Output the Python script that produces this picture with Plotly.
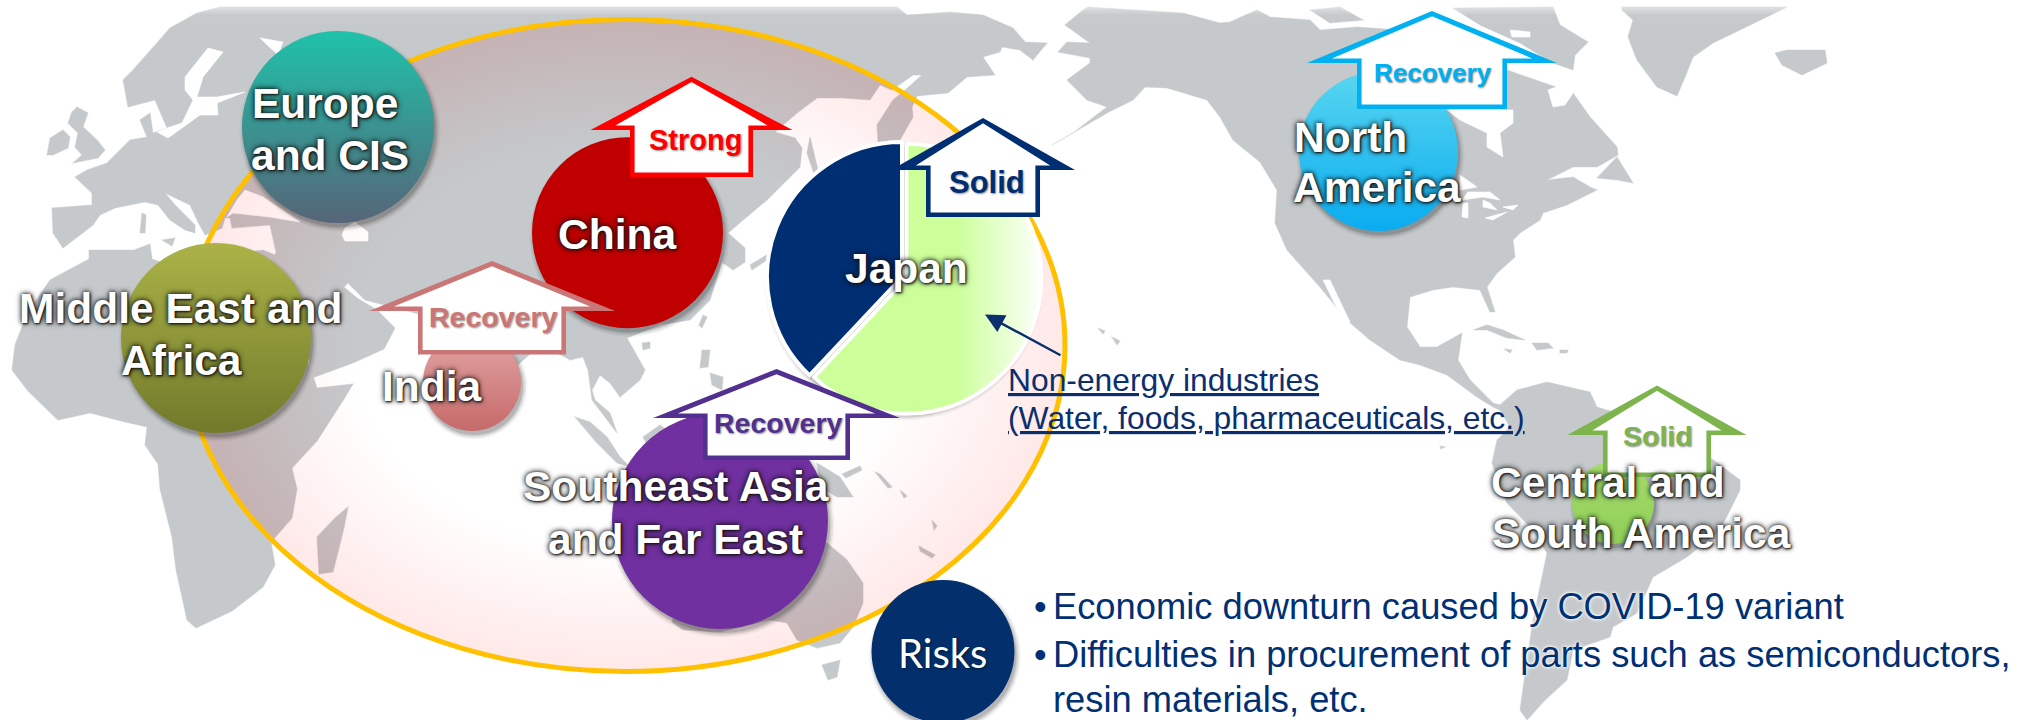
import math
import plotly.graph_objects as go

W, H = 2037, 720

# ---- Regions and outlook ----
REGION_NAMES = ["Europe and CIS", "Middle East and Africa", "China", "India",
                "Southeast Asia and Far East", "North America",
                "Central and South America", "Risks"]
REGION_RADIUS = [96, 95, 95.5, 49, 108, 79.5, 41, 71.5]
REGION_X = [338, 216, 627.5, 472, 720, 1378.5, 1613, 943]
REGION_Y = [127, 338, 232.7, 382, 521, 151.5, 503, 651.5]
REGION_TOP = ["#1fc2aa", "#abb347", "#c00000", "#e3a5a5", "#7030a0", "#58d6f0", "#a6dc6c", "#03306c"]
REGION_BOTTOM = ["#566578", "#727a2b", "#c00000", "#c66a6a", "#7030a0", "#0aacf0", "#8fcf58", "#03306c"]

JAPAN_SEGMENTS = ["Non-energy industries", "Energy"]
JAPAN_SHARE = [62, 38]

OUTLOOK = ["Strong", "Solid", "Recovery", "Recovery", "Recovery", "Solid"]
OUTLOOK_COLOR = ["#ff0000", "#002e73", "#cb7676", "#52308f", "#00b0f0", "#7db44e"]
OUTLOOK_X = [691.5, 983, 492, 776.5, 1432, 1657]
OUTLOOK_APEX = [76.7, 118, 261, 369, 11, 385.5]
OUTLOOK_WING = [130, 170, 311, 418, 63, 435]
OUTLOOK_BASE = [177, 217, 354.5, 460, 109, 477]
OUTLOOK_TIP = [101, 92, 123, 123.5, 125, 89.5]
OUTLOOK_BODY = [61.5, 57, 74, 73.5, 75, 54]
OUTLOOK_TEXT_X = [695, 987, 493, 778, 1433, 1658]
OUTLOOK_TEXT_BASE = [150, 193, 327, 433, 82, 446]
OUTLOOK_TEXT_SIZE = [29, 31, 28.5, 28.5, 26, 28.5]

REGION_LINES = ["Europe", "and CIS", "China", "Middle East and", "Africa", "India",
                "Southeast Asia", "and Far East", "Japan", "North", "America",
                "Central and", "South America"]
LINE_X = [324.5, 330, 617, 181, 181, 432, 676, 675, 906, 1350, 1376.5, 1608, 1641]
LINE_BASE = [118, 170, 249.5, 323.5, 375, 401, 501, 554, 283.5, 152, 202, 497, 548]

NOTE_LINES = ["Non-energy industries", "(Water, foods, pharmaceuticals, etc.)"]
NOTE_BASE = [391, 429]
RISK_LINES = ["Economic downturn caused by COVID-19 variant",
              "Difficulties in procurement of parts such as semiconductors,",
              "resin materials, etc."]
RISK_BASE = [619, 667, 712]

# ---- Land outlines on the 2037 x 720 canvas ----
EURASIA = [(53,233),(52,208),(92,205),(92,193),(75,177),(87,170),(107,163),(130,140),(147,137),(140,120),
    (150,113),(153,133),(167,128),(155,100),(128,107),(123,80),(133,70),(157,43),(170,28),(197,13),(220,7),
    (897,7),(907,15),(937,13),(950,12),(983,15),(1013,28),(1025,42),(1047,43),(1033,60),(1020,50),(1002,47),(1000,52),(983,57),
    (995,75),(967,77),(948,93),(917,96),(912,107),(913,117),(900,140),(878,143),(877,125),(893,100),(903,92),(922,75),
    (913,75),(892,90),(880,85),(870,100),(843,98),(817,98),(797,113),(775,132),(795,138),(802,148),(800,167),
    (787,180),(767,200),(743,220),(728,233),(745,248),(745,262),(733,270),(722,262),(710,300),(690,320),(660,325),
    (627,338),(645,370),(640,380),(620,397),(610,383),(600,375),(592,390),(595,400),(610,413),(617,433),(605,417),
    (592,400),(588,370),(583,357),(570,360),(567,358),(540,345),(500,381),(472,416),(440,350),(419,314),(365,300),
    (348,283),(340,291),(344,287),(357,298),(377,310),(395,328),(384,349),(353,363),(312,378),(308,354),(280,298),
    (270,273),(276,252),(270,225),(232,228),(230,218),(225,218),(222,228),(213,232),(205,235),(198,222),(190,205),
    (165,193),(175,205),(195,225),(195,233),(185,230),(170,220),(158,205),(145,202),(115,208),(100,215),(93,225),(63,248)]
AFRICA = [(89,259),(50,280),(27,314),(15,345),(12,370),(28,391),(58,420),(90,413),(125,422),(147,427),(145,445),
    (158,464),(160,489),(172,537),(176,570),(187,620),(196,628),(232,611),(263,587),(275,565),(271,542),(292,518),
    (297,489),(292,468),(317,441),(344,399),(353,384),(317,388),(310,367),(277,285),(275,255),(263,250),(214,257),
    (200,270),(172,266),(152,259),(150,244),(134,250),(89,250)]
NORTH_AMERICA = [(1088,7),(1183,13),(1220,23),(1230,22),(1257,10),(1270,17),(1310,20),(1320,30),(1357,27),(1400,30),
    (1450,60),(1507,70),(1550,85),(1573,93),(1590,117),(1617,147),(1618,155),(1597,167),(1573,167),(1547,180),(1573,177),
    (1590,187),(1597,190),(1567,205),(1543,213),(1540,220),(1520,233),(1513,240),(1515,257),(1497,273),(1487,287),
    (1495,312),(1490,312),(1480,290),(1453,287),(1433,290),(1410,297),(1407,327),(1420,347),(1437,347),(1462,333),
    (1458,360),(1470,380),(1493,403),(1500,405),(1500,410),(1493,407),(1477,397),(1447,375),(1420,365),(1400,360),
    (1370,340),(1347,320),(1320,287),(1287,250),(1275,223),(1277,190),(1260,162),(1233,140),(1220,117),(1207,100),
    (1167,88),(1145,87),(1133,100),(1107,113),(1052,145),(1073,133),(1107,107),(1087,100),(1067,80),(1090,63),
    (1090,58),(1058,52),(1067,42),(1090,43),(1065,25),(1083,10)]
SOUTH_AMERICA = [(1500,405),(1517,390),(1547,382),(1590,392),(1597,407),(1640,420),(1700,450),(1740,480),(1740,490),
    (1720,530),(1687,557),(1653,577),(1637,613),(1613,627),(1610,637),(1573,650),(1567,680),(1545,700),(1527,720),
    (1520,710),(1527,660),(1533,620),(1547,553),(1533,530),(1507,503),(1492,463),(1497,440),(1510,427),(1500,410)]
ISLANDS = [
    [(77,107),(88,113),(83,127),(97,140),(105,150),(98,158),(73,163),(82,155),(75,147),(78,133),(68,123),(72,112)],
    [(47,155),(50,138),(63,130),(70,137),(68,148),(53,155)],
    [(142,213),(146,215),(145,233),(140,233)],
    [(162,240),(175,238),(172,246)],
    [(348,507),(344,528),(333,572),(319,574),(317,537),(335,518)],
    [(810,137),(818,170),(815,177),(807,153)],
    [(750,265),(775,250),(770,258),(752,270)],
    [(703,315),(707,317),(702,328),(699,325)],
    [(642,343),(650,342),(650,348),(643,350)],
    [(702,350),(710,350),(708,367),(700,368)],
    [(710,373),(723,377),(722,390),(712,385)],
    [(575,417),(590,422),(607,437),(620,457),(630,467),(617,463),(597,443)],
    [(643,437),(660,425),(680,440),(660,470)],
    [(817,463),(840,477),(853,497),(837,497),(820,487)],
    [(842,474),(860,466),(862,470),(846,478)],
    [(875,472),(880,474),(892,487),(888,488)],
    [(900,490),(907,496),(904,498)],
    [(827,543),(847,560),(863,583),(863,603),(853,627),(840,643),(817,648),(797,640),(787,623),(770,620),(720,632),
     (683,630),(672,622),(680,590),(720,540),(790,540)],
    [(822,665),(840,660),(837,677),(828,680)],
    [(932,520),(937,526),(934,530)],
    [(919,546),(935,555),(932,558),(920,551)],
    [(1098,328),(1105,331),(1103,334)],
    [(1112,337),(1120,341),(1117,345)],
    [(1440,446),(1445,447),(1441,449)],
    [(1622,10),(1633,20),(1628,37),(1637,60),(1657,87),(1677,96),(1685,77),(1693,57),(1713,43),(1740,30),(1787,7),(1622,7)],
    [(1775,53),(1787,50),(1825,50),(1827,63),(1802,75),(1782,65)],
    [(1473,330),(1487,325),(1503,330),(1525,340),(1507,338),(1487,330)],
    [(1532,343),(1548,343),(1553,348),(1537,350)],
    [(1560,350),(1568,350),(1567,353),(1560,353)],
    [(1504,349),(1512,350),(1510,353)],
    [(1310,10),(1340,7),(1363,20),(1330,23)],
    [(1453,8),(1553,7),(1560,25),(1588,42),(1575,55),(1573,70),(1553,63),(1520,43),(1480,25)],
    [(1597,178),(1617,157),(1633,183),(1617,180)],
]
WATER = [
    [(208,48),(223,52),(203,77),(197,97),(217,97),(245,92),(217,103),(218,115),(200,115),(168,138),(157,132),(167,128),
     (182,123),(193,100),(185,90),(185,77)],
    [(260,38),(283,42),(278,55)],
    [(245,190),(263,197),(300,222),(270,217),(233,213),(227,217),(237,200)],
    [(345,228),(355,222),(368,232),(368,241),(345,241),(342,235)],
    [(1447,110),(1513,110),(1513,123),(1500,133),(1503,157),(1487,147),(1487,133),(1460,120)],
    [(1548,90),(1567,83),(1573,93),(1565,105),(1553,107)],
    [(1468,192),(1490,192),(1500,200),(1483,197),(1462,200)],
    [(1463,203),(1468,203),(1468,218),(1462,217)],
    [(1483,200),(1490,203),(1497,210),(1483,207)],
    [(1485,218),(1507,212),(1493,220)],
    [(1503,207),(1518,205),(1513,210)],
    [(1460,175),(1477,187),(1460,190)],
    [(1323,280),(1330,280),(1350,322),(1345,325)],
    [(1510,30),(1530,32),(1530,37),(1512,37)],
    [(1022,18),(1030,20),(1027,24)],
]

LAND_COLOR = "#c5c9cb"
NAVY = "#0b2f6e"


def polygon_path(points):
    return "M" + "L".join(f"{x:.1f},{y:.1f}" for x, y in points) + "Z"


def ellipse_points(cx, cy, a, b, n=120, reverse=False):
    pts = [(cx + a * math.cos(2 * math.pi * i / n), cy + b * math.sin(2 * math.pi * i / n)) for i in range(n)]
    return pts[::-1] if reverse else pts


shapes = []


def add_poly(points, fill, layer="below", line="rgba(0,0,0,0)", width=0):
    shapes.append(dict(type="path", path=polygon_path(points), fillcolor=fill, layer=layer, xref="x", yref="y",
                       line=dict(color=line, width=width)))


# Land masses, then water bodies cut back in white
for outline in [EURASIA, AFRICA, NORTH_AMERICA, SOUTH_AMERICA] + ISLANDS:
    add_poly(outline, LAND_COLOR, line="rgba(197,201,203,0.45)", width=1.2)
for outline in WATER:
    add_poly(outline, "#ffffff", line="rgba(255,255,255,0.6)", width=1)

# Top edge of the map fades into the page
for i in range(8):
    add_poly([(0, 7 + i), (W, 7 + i), (W, 8 + i), (0, 8 + i)], f"rgba(255,255,255,{0.42 - i * 0.05:.2f})")
    add_poly([(0, 15 + i), (W, 15 + i), (W, 16 + i), (0, 16 + i)], "rgba(255,255,255,0.02)")

# Market-focus ellipse: pink tint growing towards the rim
CX, CY, AX, AY = 625, 345.5, 440, 326
RINGS = 22
for k in range(RINGS):
    inner = 0.62 + 0.37 * k / RINGS
    outer = ellipse_points(CX, CY, AX, AY)
    hole = ellipse_points(CX, CY, AX * inner, AY * inner, reverse=True)
    shapes.append(dict(type="path", path=polygon_path(outer) + polygon_path(hole),
                       fillcolor="rgba(221,75,88,0.0048)", layer="below", xref="x", yref="y", line=dict(width=0)))
shapes.append(dict(type="circle", xref="x", yref="y", x0=CX - AX, x1=CX + AX, y0=CY - AY, y1=CY + AY,
                   layer="below", line=dict(color="#ffc000", width=5), fillcolor="rgba(0,0,0,0)"))

# Japan pie placement
PIE_X, PIE_Y, PIE_R, PIE_PULL = 902, 277, 135, 0.035

# Fade of the light slice towards white, laid over the pie
slice_cx, slice_cy = PIE_X + 4.4, PIE_Y + 1.7
STEPS = 24
start_x, end_x = 957, slice_cx + PIE_R
previous = 0.0
for k in range(STEPS):
    target = 0.97 * (k + 1) / STEPS
    alpha = 1 - (1 - target) / (1 - previous)
    previous = target
    xk = start_x + (end_x - start_x) * k / STEPS
    half = math.acos(min(1, (xk - slice_cx) / PIE_R))
    arc = [(slice_cx + PIE_R * math.cos(-half + 2 * half * j / 30), slice_cy + PIE_R * math.sin(-half + 2 * half * j / 30))
           for j in range(31)]
    add_poly(arc, f"rgba(255,255,255,{alpha:.4f})", layer="above")

# Outlook arrows: coloured house outline with a white interior
for cx, apex, wing, base, tip, body, color in zip(OUTLOOK_X, OUTLOOK_APEX, OUTLOOK_WING, OUTLOOK_BASE,
                                                  OUTLOOK_TIP, OUTLOOK_BODY, OUTLOOK_COLOR):
    rim = 4.6
    add_poly([(cx, apex), (cx + tip, wing), (cx + body, wing), (cx + body, base), (cx - body, base),
              (cx - body, wing), (cx - tip, wing)], color, layer="above")
    add_poly([(cx, apex + rim * 1.15), (cx + tip - rim * 5.4, wing - rim), (cx + body - rim, wing - rim),
              (cx + body - rim, base - rim), (cx - body + rim, base - rim), (cx - body + rim, wing - rim),
              (cx - tip + rim * 5.4, wing - rim)], "#ffffff", layer="above")

fig = go.Figure()

# Soft drop shadows beneath the bubbles and the pie
shadow_x = REGION_X + [PIE_X]
shadow_y = REGION_Y + [PIE_Y]
shadow_d = [2 * r for r in REGION_RADIUS] + [2 * PIE_R]
for grow, alpha in [(9, 0.04), (6, 0.07), (3, 0.1), (0, 0.15)]:
    fig.add_trace(go.Scatter(x=[x + 2 for x in shadow_x], y=[y + 4 for y in shadow_y], mode="markers",
                             marker=dict(size=[d + grow for d in shadow_d], color=f"rgba(30,30,30,{alpha})",
                                         opacity=1, line=dict(width=0)),
                             hoverinfo="skip", showlegend=False, cliponaxis=False))

fig.add_trace(go.Scatter(x=REGION_X, y=REGION_Y, mode="markers", text=REGION_NAMES, hoverinfo="text", showlegend=False,
                         marker=dict(size=[2 * r for r in REGION_RADIUS], color=REGION_TOP, opacity=1,
                                     gradient=dict(type="vertical", color=REGION_BOTTOM), line=dict(width=0))))

half_domain = PIE_R * (1 + PIE_PULL)
fig.add_trace(go.Pie(labels=JAPAN_SEGMENTS, values=JAPAN_SHARE, sort=False, direction="clockwise", rotation=0,
                     pull=[PIE_PULL, 0], textinfo="none", hoverinfo="label+percent", showlegend=False,
                     marker=dict(colors=["#ccff99", "#002e73"], line=dict(color="#ffffff", width=4)),
                     domain=dict(x=[(PIE_X - half_domain) / W, (PIE_X + half_domain) / W],
                                 y=[1 - (PIE_Y + half_domain) / H, 1 - (PIE_Y - half_domain) / H])))

annotations = []
ASCENT_OFFSET = 0.347


def add_text(text, x, base, size, color, family="Liberation Sans", anchor="center", shadow=None, bold=False, **font_extra):
    font = dict(family=family, size=size, color=color, **font_extra)
    if shadow:
        font["shadow"] = shadow
    if bold:
        font["weight"] = 700
    annotations.append(dict(text=text, x=x, y=base - ASCENT_OFFSET * size, xref="x", yref="y", showarrow=False,
                            xanchor=anchor, yanchor="middle", font=font, borderpad=0))


WHITE_LABEL_SHADOW = "1px 1px 2px rgba(20,20,20,.9),0 0 4px rgba(20,20,20,.9),0 0 6px rgba(20,20,20,.7)"
for text, x, base in zip(REGION_LINES, LINE_X, LINE_BASE):
    add_text(text, x, base, 42.5, "#ffffff", shadow=WHITE_LABEL_SHADOW, bold=True)

for text, x, base, size, color in zip(OUTLOOK, OUTLOOK_TEXT_X, OUTLOOK_TEXT_BASE, OUTLOOK_TEXT_SIZE, OUTLOOK_COLOR):
    add_text(text, x, base, size, color, shadow="1px 1px 2px rgba(0,0,0,.45)", bold=True)

for text, base in zip(NOTE_LINES, NOTE_BASE):
    add_text(text, 1006.5, base, 31.8, NAVY, anchor="left", lineposition="under")

add_text("Risks", 942, 667, 40, "#ffffff", family="Lato", shadow="1px 1px 3px rgba(0,0,0,.5)")

for text, base in zip(RISK_LINES, RISK_BASE):
    add_text(text, 1052, base, 36.3, "#003073", anchor="left", shadow="0 0 3px #fff,0 0 4px #fff")
for base in RISK_BASE[:2]:
    add_text("•", 1040, base, 36, "#003073")

# Pointer from the note to the light slice
annotations.append(dict(x=985, y=314.5, ax=1062, ay=356, xref="x", yref="y", axref="x", ayref="y", text="",
                        showarrow=True, arrowhead=2, arrowsize=1.6, arrowwidth=2.4, arrowcolor=NAVY))

fig.update_layout(width=W, height=H, margin=dict(l=0, r=0, t=0, b=0), autosize=False,
                  paper_bgcolor="#ffffff", plot_bgcolor="#ffffff", showlegend=False,
                  xaxis=dict(range=[0, W], visible=False, fixedrange=True),
                  yaxis=dict(range=[H, 0], visible=False, fixedrange=True),
                  shapes=shapes, annotations=annotations)

fig.write_html("out.html", config=dict(displayModeBar=False))
